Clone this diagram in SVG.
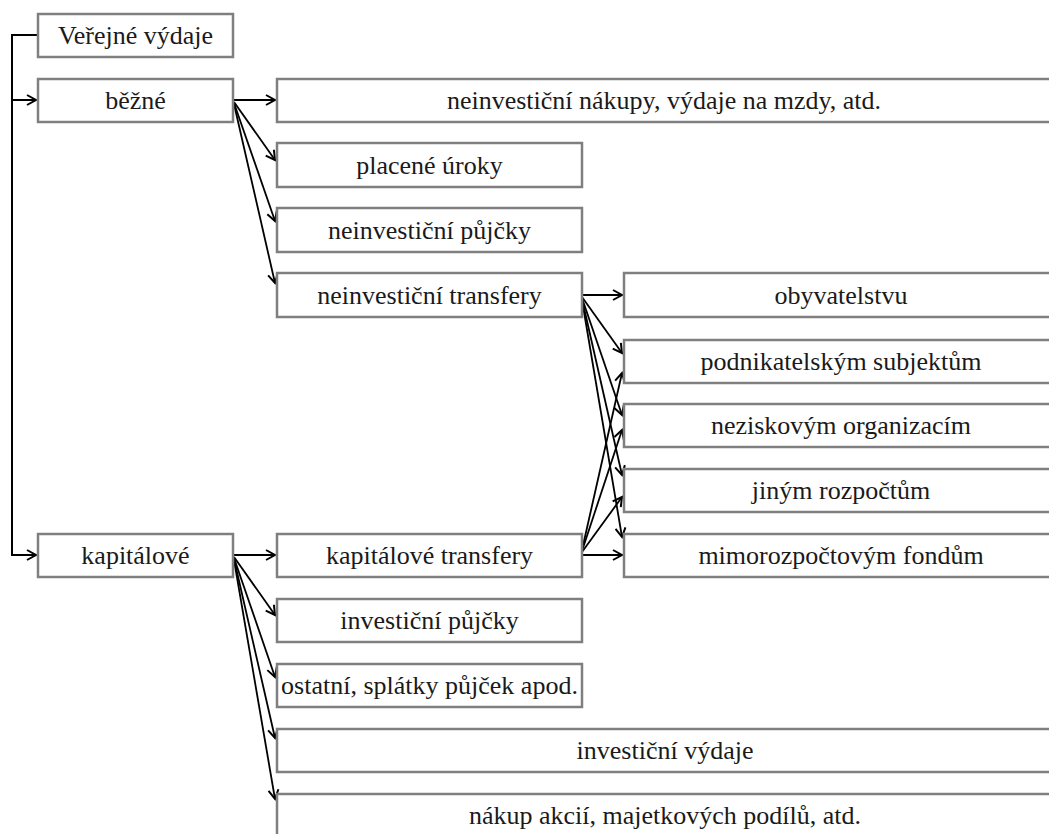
<svg xmlns="http://www.w3.org/2000/svg" width="1049" height="834" viewBox="0 0 1049 834">
<style>
.box{fill:#fff;stroke:#7f7f7f;stroke-width:2.5}
text{font-family:"Liberation Serif",serif;font-size:26px;fill:#1a1a1a;text-anchor:middle}
.c{fill:none;stroke:#000;stroke-width:2}
.f{fill:none;stroke:#000;stroke-width:1.8}
</style>
<defs>
<marker id="ah" markerUnits="userSpaceOnUse" markerWidth="14" markerHeight="14" refX="10" refY="6" orient="auto" viewBox="0 0 14 12">
<path d="M1,1 L10,6 L1,11" fill="none" stroke="#000" stroke-width="2"/>
</marker>
</defs>
<rect width="1049" height="834" fill="#fff"/>
<g id="connectors">
<path class="c" d="M38,35 H12 V555 H36" marker-end="url(#ah)"/>
<path class="c" d="M12,100 H36" marker-end="url(#ah)"/>
<path class="c" d="M233,100 H275" marker-end="url(#ah)"/>
<path class="f" d="M234,102 L275,160" marker-end="url(#ah)"/>
<path class="f" d="M234,103 L275,221" marker-end="url(#ah)"/>
<path class="f" d="M234,104 L275,283" marker-end="url(#ah)"/>
<path class="c" d="M582,295 H622" marker-end="url(#ah)"/>
<path class="f" d="M582,297 L622,353" marker-end="url(#ah)"/>
<path class="f" d="M582,298 L622,415" marker-end="url(#ah)"/>
<path class="f" d="M582,299 L622,475" marker-end="url(#ah)"/>
<path class="f" d="M582,300 L622,537" marker-end="url(#ah)"/>
<path class="c" d="M582,555 H622" marker-end="url(#ah)"/>
<path class="f" d="M582,552 L622,497" marker-end="url(#ah)"/>
<path class="f" d="M582,551 L622,430" marker-end="url(#ah)"/>
<path class="f" d="M582,550 L622,373" marker-end="url(#ah)"/>
<path class="c" d="M233,555 H275" marker-end="url(#ah)"/>
<path class="f" d="M234,557 L275,615" marker-end="url(#ah)"/>
<path class="f" d="M234,558 L275,677" marker-end="url(#ah)"/>
<path class="f" d="M234,559 L275,738" marker-end="url(#ah)"/>
<path class="f" d="M234,560 L275,799" marker-end="url(#ah)"/>
</g>
<g font-family="Liberation Serif, serif" font-size="26">
<g id="n-verejne"><rect class="box" x="38" y="14" width="195" height="43"/><text font-family="Liberation Serif" x="135.5" y="44">Veřejné výdaje</text></g>
<g id="n-bezne"><rect class="box" x="38" y="79" width="195" height="43"/><text font-family="Liberation Serif" x="135.5" y="109">běžné</text></g>
<g id="n-kapitalove"><rect class="box" x="38" y="534" width="195" height="43"/><text font-family="Liberation Serif" x="135.5" y="564">kapitálové</text></g>
<g id="n-nakupy"><rect class="box" x="277" y="79" width="778" height="43"/><text font-family="Liberation Serif" x="664" y="109">neinvestiční nákupy, výdaje na mzdy, atd.</text></g>
<g id="n-uroky"><rect class="box" x="277" y="143" width="305" height="44"/><text font-family="Liberation Serif" x="429.5" y="174">placené úroky</text></g>
<g id="n-npujcky"><rect class="box" x="277" y="208" width="305" height="44"/><text font-family="Liberation Serif" x="429.5" y="239">neinvestiční půjčky</text></g>
<g id="n-ntransfery"><rect class="box" x="277" y="273" width="305" height="44"/><text font-family="Liberation Serif" x="429.5" y="304">neinvestiční transfery</text></g>
<g id="n-ktransfery"><rect class="box" x="277" y="534" width="305" height="43"/><text font-family="Liberation Serif" x="429.5" y="564">kapitálové transfery</text></g>
<g id="n-ipujcky"><rect class="box" x="277" y="599" width="305" height="43"/><text font-family="Liberation Serif" x="429.5" y="629">investiční půjčky</text></g>
<g id="n-ostatni"><rect class="box" x="277" y="664" width="305" height="43"/><text font-family="Liberation Serif" x="429.5" y="694">ostatní, splátky půjček apod.</text></g>
<g id="n-ivydaje"><rect class="box" x="277" y="729" width="778" height="43"/><text font-family="Liberation Serif" x="665" y="759">investiční výdaje</text></g>
<g id="n-akcie"><rect class="box" x="277" y="794" width="778" height="50"/><text font-family="Liberation Serif" x="665" y="824">nákup akcií, majetkových podílů, atd.</text></g>
<g id="n-obyv"><rect class="box" x="624" y="273" width="434" height="44"/><text font-family="Liberation Serif" x="841" y="304">obyvatelstvu</text></g>
<g id="n-podnik"><rect class="box" x="624" y="340" width="434" height="43"/><text font-family="Liberation Serif" x="841" y="370">podnikatelským subjektům</text></g>
<g id="n-nezisk"><rect class="box" x="624" y="404" width="434" height="43"/><text font-family="Liberation Serif" x="841" y="434">neziskovým organizacím</text></g>
<g id="n-jinym"><rect class="box" x="624" y="469" width="434" height="43"/><text font-family="Liberation Serif" x="841" y="499">jiným rozpočtům</text></g>
<g id="n-mimo"><rect class="box" x="624" y="534" width="434" height="43"/><text font-family="Liberation Serif" x="841" y="564">mimorozpočtovým fondům</text></g>
</g>
</svg>
